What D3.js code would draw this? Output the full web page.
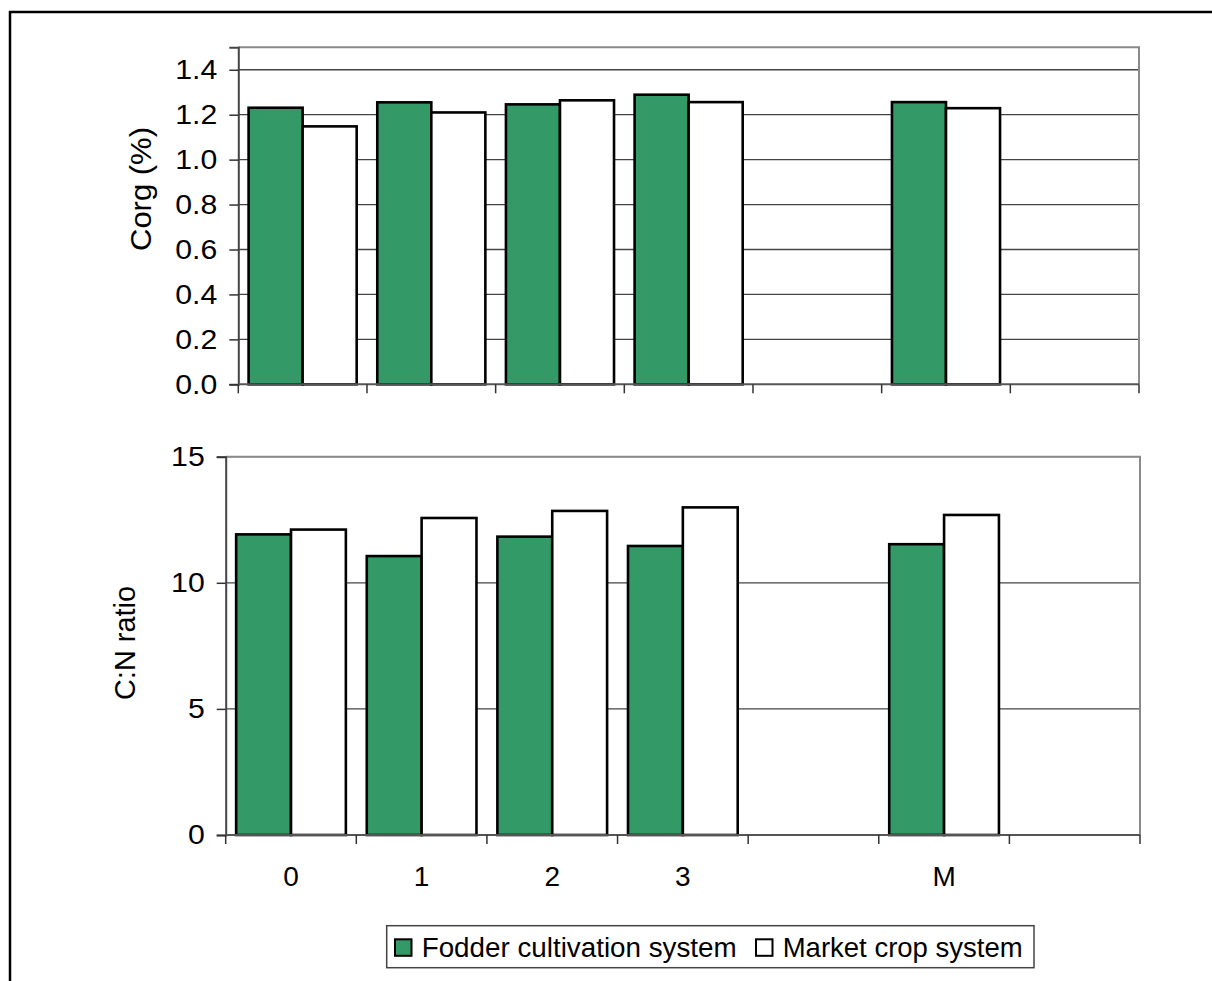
<!DOCTYPE html>
<html><head><meta charset="utf-8">
<script src="https://cdn.jsdelivr.net/npm/d3@7"></script>
<style>
html,body{margin:0;padding:0;background:#fff;}
svg{display:block;font-family:"Liberation Sans",Arial,sans-serif;}
</style></head>
<body>
<svg id="c" width="1212" height="981"></svg>
<script>
// ---- data ----
const categories = ["0", "1", "2", "3", "", "M", ""];
const seriesNames = ["Fodder cultivation system", "Market crop system"];
const seriesColors = ["#339966", "#ffffff"];
const corgFodder = [1.231, 1.255, 1.246, 1.289, null, 1.256];
const corgMarket = [1.148, 1.210, 1.264, 1.256, null, 1.229];
const cnFodder = [11.92, 11.06, 11.83, 11.46, null, 11.53];
const cnMarket = [12.11, 12.57, 12.85, 12.99, null, 12.69];
const corgTicks = [0, 0.2, 0.4, 0.6, 0.8, 1.0, 1.2, 1.4];
const cnTicks = [0, 5, 10, 15];

const svg = d3.select("#c");
// outer frame
svg.append("rect").attr("x", 10).attr("y", 12).attr("width", 1230).attr("height", 1000)
  .attr("fill", "none").attr("stroke", "#000").attr("stroke-width", 2.5);

function widen(sel, f) {
  sel.each(function () {
    const w = this.getComputedTextLength();
    d3.select(this).attr("textLength", w * f).attr("lengthAdjust", "spacingAndGlyphs");
  });
}

function panel(cfg) {
  const {left, right, top, bottom, yMax, ticks, fmt, a, b, title, titleX, titleY, titleLen, showLabels} = cfg;
  const W = right - left, H = bottom - top;
  const g = svg.append("g").attr("transform", `translate(${left},${top})`);
  const idx = categories.map((d, i) => i);
  const x0 = d3.scaleBand().domain(idx).range([0, W]).padding(0);
  const bw = x0.bandwidth();
  const x1 = d3.scaleBand().domain([0, 1]).range([bw * 0.08, bw * 0.92]).padding(0);
  const y = d3.scaleLinear().domain([0, yMax]).range([H, 0]);

  // gridlines
  g.append("g").selectAll("line").data(ticks.filter(t => t > 0)).join("line")
    .attr("x1", 0).attr("x2", W).attr("y1", d => y(d)).attr("y2", d => y(d))
    .attr("stroke", "#444").attr("stroke-width", 1.3);
  // top & right border
  g.append("path").attr("d", `M0,0H${W}V${H}`).attr("fill", "none")
    .attr("stroke", "#8a8a8a").attr("stroke-width", 2);

  // bars
  const rows = idx.map(i => ({i, v: [a[i], b[i]]}));
  const grp = g.append("g").selectAll("g").data(rows).join("g")
    .attr("transform", d => `translate(${x0(d.i)},0)`);
  grp.selectAll("rect").data(d => d.v.map((v, s) => ({v, s})).filter(e => e.v != null)).join("rect")
    .attr("x", e => x1(e.s)).attr("width", x1.bandwidth())
    .attr("y", e => y(e.v)).attr("height", e => H - y(e.v))
    .attr("fill", e => seriesColors[e.s]).attr("stroke", "#000").attr("stroke-width", 2.6);

  // y axis
  const ya = g.append("g").call(d3.axisLeft(y).tickValues(ticks).tickFormat(fmt).tickSize(9).tickPadding(12));
  ya.select(".domain").attr("stroke", "#444").attr("stroke-width", 2);
  ya.selectAll(".tick line").attr("stroke", "#333").attr("stroke-width", 1.5);
  ya.selectAll("text").attr("font-size", 27.5).attr("fill", "#000")
    .attr("font-family", '"Liberation Sans",Arial,sans-serif');
  widen(ya.selectAll("text"), 1.1);

  // x axis: boundary ticks
  const bounds = idx.map(i => x0(i)).concat([W]);
  const xb = g.append("g").attr("transform", `translate(0,${H})`);
  xb.append("line").attr("x1", 0).attr("x2", W).attr("stroke", "#555").attr("stroke-width", 2);
  xb.selectAll("line.t").data(bounds).join("line").attr("class", "t")
    .attr("x1", d => d).attr("x2", d => d).attr("y1", 0).attr("y2", 9)
    .attr("stroke", "#333").attr("stroke-width", 1.5);
  if (showLabels) {
    const xl = d3.scaleBand().domain(categories.map((c, i) => i)).range([0, W]);
    const xa = g.append("g").attr("transform", `translate(0,${H})`)
      .call(d3.axisBottom(xl).tickFormat(i => categories[i]).tickSize(0).tickPadding(31));
    xa.select(".domain").remove();
    xa.selectAll("text").attr("font-size", 28).attr("fill", "#000")
      .attr("font-family", '"Liberation Sans",Arial,sans-serif');
  }
  // title
  svg.append("text").attr("transform", `translate(${titleX},${titleY}) rotate(-90)`)
    .attr("text-anchor", "middle").attr("dominant-baseline", "central")
    .attr("font-size", 29).attr("textLength", titleLen).attr("lengthAdjust", "spacingAndGlyphs")
    .text(title);
}

panel({left: 238.3, right: 1139, top: 47.3, bottom: 384.3, yMax: 1.5, ticks: corgTicks,
  fmt: d3.format(".1f"), a: corgFodder, b: corgMarket, title: "Corg (%)", titleX: 141.3, titleY: 189, titleLen: 124, showLabels: false});
panel({left: 225.7, right: 1140, top: 456.7, bottom: 835, yMax: 15, ticks: cnTicks,
  fmt: d3.format("d"), a: cnFodder, b: cnMarket, title: "C:N ratio", titleX: 124.7, titleY: 643, titleLen: 114, showLabels: true});

// legend
const lg = svg.append("g");
lg.append("rect").attr("x", 386.7).attr("y", 925.7).attr("width", 647.3).attr("height", 42)
  .attr("fill", "#fff").attr("stroke", "#444").attr("stroke-width", 1.5);
const legX = [395, 756];
const legLen = [315, 240];
seriesNames.forEach((n, i) => {
  lg.append("rect").attr("x", legX[i]).attr("y", 939.3).attr("width", 16.5).attr("height", 16.5)
    .attr("fill", seriesColors[i]).attr("stroke", "#000").attr("stroke-width", 2);
  lg.append("text").attr("x", legX[i] + 26.7).attr("y", 956.5).attr("font-size", 27.5)
    .attr("textLength", legLen[i]).attr("lengthAdjust", "spacingAndGlyphs").text(n);
});
</script>
</body></html>
